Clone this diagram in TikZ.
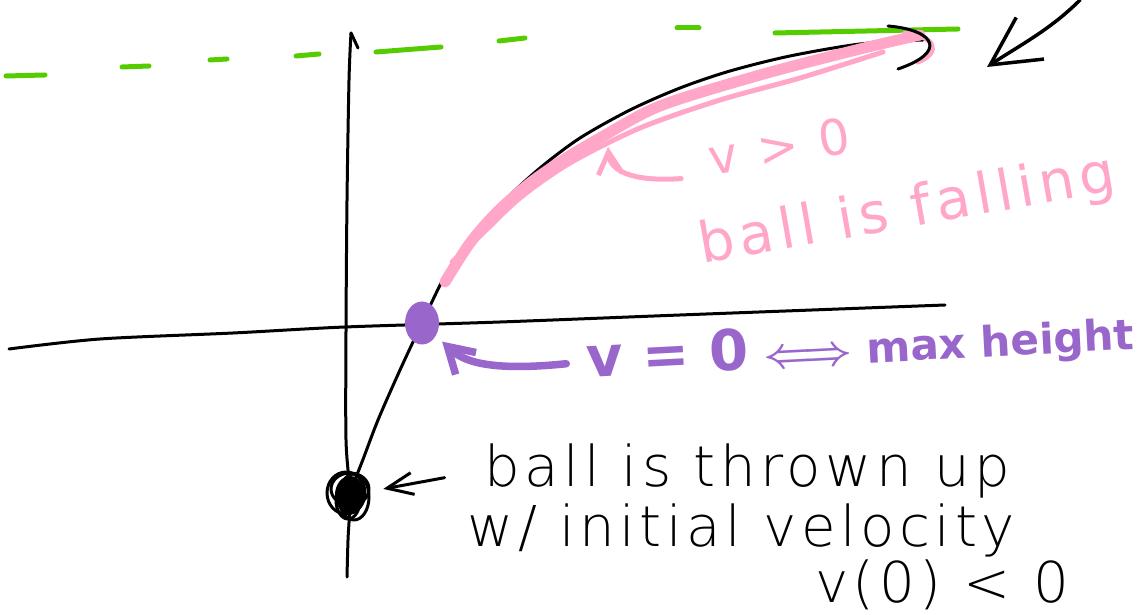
\documentclass[tikz,border=0pt]{standalone}
\usepackage{fontspec}
\setmainfont{DejaVu Sans}
\newfontfamily\thinfont[LetterSpace=8]{DejaVu Sans ExtraLight}
\newfontfamily\pinkfont[LetterSpace=10]{DejaVu Sans}
\usetikzlibrary{shapes.geometric,arrows.meta,calc}
\definecolor{sketchpink}{RGB}{255,166,201}
\definecolor{sketchpurple}{RGB}{153,102,204}
\definecolor{sketchgreen}{RGB}{85,204,0}

\begin{document}
\begin{tikzpicture}[
    x=0.1mm, y=-0.1mm,
    line cap=round, line join=round,
    axis/.style={draw=black, line width=0.3mm},
    orbit/.style={draw=black, line width=0.3mm},
    fallband/.style={draw=sketchpink, line width=1.1mm},
    fallstroke/.style={draw=sketchpink, line width=0.5mm},
    ceiling/.style={draw=sketchgreen, line width=0.5mm},
    pinknote/.style={text=sketchpink, font=\pinkfont\fontsize{16}{19}\selectfont, inner sep=0pt},
    purplenote/.style={text=sketchpurple, font=\bfseries\boldmath\fontsize{12}{15}\selectfont, inner sep=0pt},
    blacknote/.style={text=black, font=\thinfont\fontsize{16}{19}\selectfont, inner sep=0pt},
    pinkarrow/.style={draw=sketchpink, line width=0.5mm, -{Straight Barb[length=2.2mm,width=2.4mm]}},
    purplearrow/.style={draw=sketchpurple, line width=0.75mm, -{Straight Barb[length=2.5mm,width=3mm]}},
    blackarrow/.style={draw=black, line width=0.3mm, -{Straight Barb[length=2.6mm,width=2.2mm]}},
    bigarrow/.style={draw=black, line width=0.35mm, -{Straight Barb[length=4.8mm,width=5mm]}}
]
\useasboundingbox (0,0) rectangle (1143,615);

% max height line
\foreach \xa/\ya/\xb/\yb in {6/76/45/75, 122/67/149/66, 210/60/227/59, 296/56/319/54, 376/52/441/47, 499/41/525/38, 677/28/699/28}
    \draw[ceiling] (\xa,\ya) -- (\xb,\yb);
\draw[ceiling] (775,33) -- (958,29);

% axes
\draw[axis] plot[smooth] coordinates {(9,349) (100,339) (233,333) (345,327) (500,322) (680,315) (945,305)};
\draw[axis] (358,48) -- (351,33);
\draw[axis] plot[smooth] coordinates {(351,33) (349,80) (347,200) (346,330) (346,440) (350,495) (348,540) (347,577)};

% trajectory
\draw[orbit] plot[smooth] coordinates {(348,497) (362,462) (378,420) (400,370) (422,323) (447,272) (475,232) (505,200) (540,168) (580,138) (630,110) (680,88) (730,71) (790,56) (860,44) (923,40)};
\draw[fallband] plot[smooth] coordinates {(445,282) (470,243) (497,212) (530,183) (563,160) (600,138) (660,106) (760,75) (860,49) (920,35)};
\draw[fallstroke] plot[smooth] coordinates {(452,262) (480,236) (520,198) (570,163) (640,128) (720,100) (800,78) (883,52)};
\draw[fallstroke] (905,33) .. controls (935,36) and (942,52) .. (918,62);
\draw[orbit] (888,26) .. controls (935,30) and (948,52) .. (898,69);

% points
\node[ellipse, fill=sketchpurple, minimum width=3.4mm, minimum height=4.3mm, inner sep=0pt] (maxpt) at (422,323) {};
\node[ellipse, fill=black, minimum width=3mm, minimum height=3.8mm, inner sep=0pt] (ball) at (350,495) {};
\draw[orbit] (346,493) ellipse [x radius=1.9mm, y radius=2.1mm];
\draw[orbit] (354,497) ellipse [x radius=1.5mm, y radius=2.3mm];
\draw[orbit] (350,489) ellipse [x radius=1.9mm, y radius=1.6mm];
\draw[orbit] (348,500) ellipse [x radius=1.2mm, y radius=1.9mm];

% labels
\node[pinknote, font=\pinkfont\fontsize{14}{17}\selectfont, anchor=base, rotate=9] (vpos) at (782,164) {v > 0};
\node[pinknote, anchor=base, rotate=10] (falling) at (910,227) {ball is falling};
\node[purplenote, anchor=base west, rotate=3] (maxtext) at (587,378) {{\fontsize{16}{19}\selectfont v = 0} $\Longleftrightarrow$ max height};
\node[blacknote, anchor=base west] (thrown1) at (484,486) {ball is thrown up};
\node[blacknote, anchor=base west] (thrown2) at (467,546) {w/ initial velocity};
\node[blacknote, anchor=base east] (thrown3) at (1070,602) {v(0) < 0};

% arrows
\coordinate (fallpt) at (608,147);
\coordinate (cornertail) at (1080,0);
\coordinate (peakmark) at (987,67);
\draw[pinkarrow, shorten <=3mm] (vpos.south west) .. controls (630,182) and (610,170) .. (fallpt);
\draw[purplearrow, shorten <=2mm, shorten >=0.8mm] (maxtext.west) .. controls (485,372) and (462,360) .. (maxpt);
\draw[blackarrow, shorten <=4mm, shorten >=1.8mm] (thrown1.west) -- (ball);
\draw[bigarrow] (cornertail) .. controls (1050,30) and (1020,45) .. (peakmark);

\end{tikzpicture}
\end{document}
